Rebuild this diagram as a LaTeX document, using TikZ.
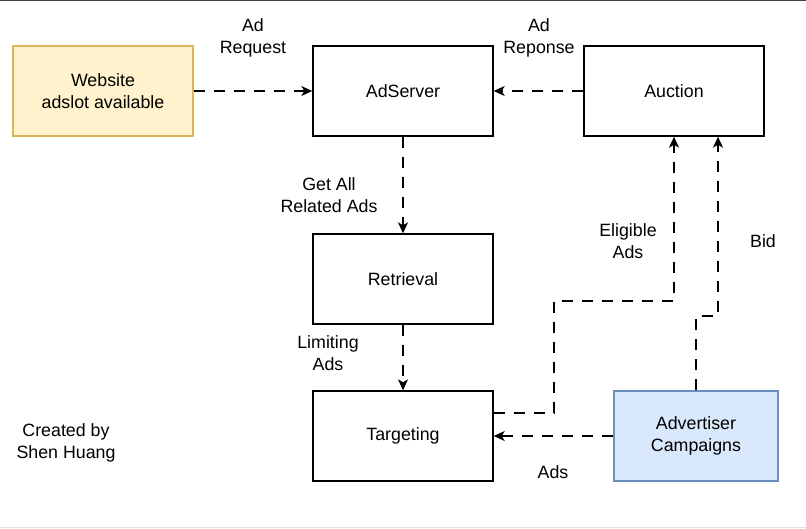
\documentclass[tikz,border=0pt]{standalone}
\usepackage{fontspec}
\setmainfont{Liberation Sans}
\usetikzlibrary{arrows.meta}
\usetikzlibrary{positioning}

\definecolor{siteFill}{HTML}{FFF2CC}
\definecolor{siteDraw}{HTML}{D6B656}
\definecolor{campFill}{HTML}{DAE8FC}
\definecolor{campDraw}{HTML}{6C8EBF}

\begin{document}
\begin{tikzpicture}[
  x=1pt, y=-1pt,
  > = {Stealth[length=11pt,width=10pt,inset=3pt]},
  box/.style = {draw,line width=1.4pt,minimum width=180pt,minimum height=90pt,inner sep=0pt,align=center,
    font=\fontsize{17.8}{22}\selectfont},
  txt/.style = {align=center,inner sep=0pt,font=\fontsize{17.8}{22}\selectfont},
  flow/.style = {->,line width=1.3pt,dash pattern=on 11pt off 9pt}
  ]
	\useasboundingbox (0,0) rectangle (806,528);
	\draw[line width=1.2pt,black!75] (0,0.6) -- (806,0.6);
	\draw[line width=1pt,black!12] (0,527) -- (806,527);

	\node[box,fill=siteFill,draw=siteDraw] (@site) at (103,91) {Website\\adslot available};
	\node[box] (@server)    at (403,91)  {AdServer};
	\node[box] (@auction)   at (674,91)  {Auction};
	\node[box] (@retrieval) at (403,279) {Retrieval};
	\node[box] (@targeting) at (403,436) {Targeting};
	\node[box,fill=campFill,draw=campDraw,minimum width=164pt] (@campaigns) at (696,436) {Advertiser\\Campaigns};

	\node[txt] (@credit) at (66,443) {Created by\\Shen Huang};

	\coordinate (@e1) at (554,301);
	\coordinate (@b1) at (718,316);

	\draw[flow] (@site) -- (@server);
	\draw[flow] (@auction) -- (@server);
	\draw[flow] (@server) -- (@retrieval);
	\draw[flow] (@retrieval) -- (@targeting);
	\draw[flow] (@campaigns) -- (@targeting);
	\draw[flow] ([yshift=23pt]@targeting.east) -| (@e1) -| (@auction.south);
	\draw[flow] (@campaigns.north) |- (@b1) -- ([xshift=44pt]@auction.south);

	\node[txt] (@l1) at (253,38)  {Ad\\Request};
	\node[txt] (@l2) at (539,38)  {Ad\\Reponse};
	\node[txt] (@l3) at (329,195) {Get All\\Related Ads};
	\node[txt] (@l4) at (328,353) {Limiting\\Ads};
	\node[txt] (@l5) at (628,241) {Eligible\\Ads};
	\node[txt] (@l6) at (763,241) {Bid};
	\node[txt] (@l7) at (553,472) {Ads};

\end{tikzpicture}
\end{document}
